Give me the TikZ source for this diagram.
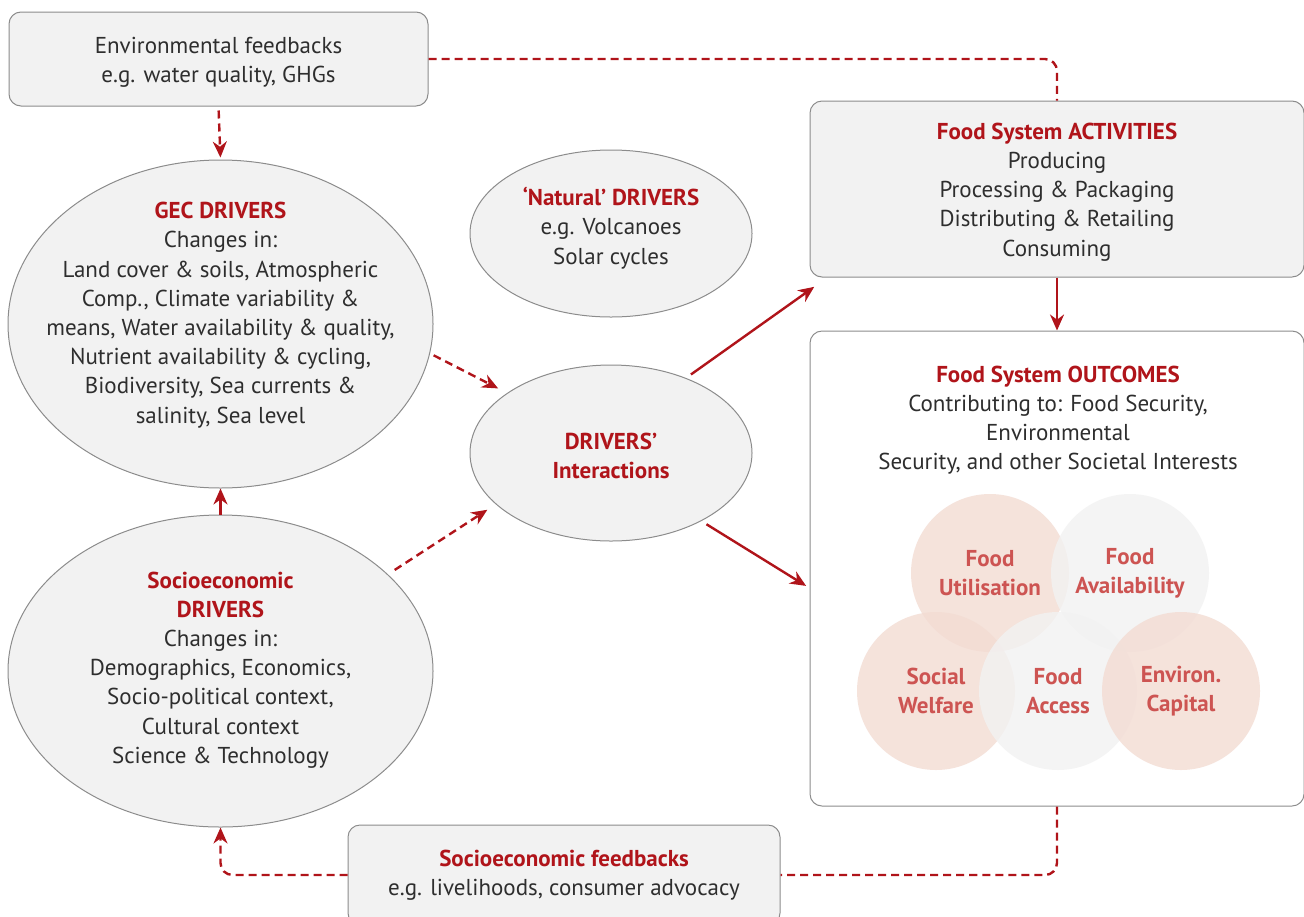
\documentclass[tikz,border=0pt]{standalone}
\usepackage{fontspec}
\setmainfont{PT Sans}
\usetikzlibrary{shapes.geometric,arrows.meta}
\definecolor{fsred}{HTML}{B0141A}
\definecolor{fsgrey}{HTML}{F2F2F2}
\definecolor{fsline}{HTML}{8C8C8C}
\definecolor{fspink}{HTML}{F3DCD3}
\definecolor{fsrose}{HTML}{CD5452}
\tikzset{
  fsbox/.style={draw=fsline, fill=fsgrey, rounded corners=6pt, line width=0.5pt},
  fsoval/.style={ellipse, draw=fsline, fill=fsgrey, line width=0.5pt, inner sep=0pt},
  fstxt/.style={align=center, font=\fontsize{11.5}{14.6}\selectfont, text=black!82},
  solidarr/.style={draw=fsred, line width=1.2pt, -{Stealth[length=8pt,width=7pt]}},
  dashline/.style={draw=fsred, line width=1.2pt, dash pattern=on 4pt off 2.5pt},
  dasharr/.style={solidarr, dash pattern=on 4pt off 2.5pt},
  fscircle/.style={circle, minimum size=79pt, inner sep=0pt, align=center, fill opacity=0.8, text opacity=1,
    text=fsrose, font=\bfseries\fontsize{11.5}{14.6}\selectfont},
}
\newcommand{\hd}[1]{\textcolor{fsred}{\bfseries #1}}

\begin{document}
\begin{tikzpicture}[x=0.5pt, y=-0.5pt]
		%%%%% FRAME %%%%%
		\clip (0,0) rectangle (1304,916);
		
		%%%%% BOXES AND OVALS %%%%%
		\node[fsbox, minimum width=209.5pt, minimum height=47pt] (envfb) at (218.5,59) {};
		\node[fstxt] (envtxt) at (218.5,62) {Environmental feedbacks\\e.g. water quality, GHGs};
		
		\node[fsoval, minimum width=212.5pt, minimum height=164pt] (gec) at (220.5,324) {};
		\node[fstxt] (gectxt) at (220.5,315) {\hd{GEC DRIVERS}\\Changes in:\\Land cover \& soils, Atmospheric\\Comp., Climate variability \&\\means, Water availability \& quality,\\Nutrient availability \& cycling,\\Biodiversity, Sea currents \&\\salinity, Sea level};
		
		\node[fsoval, minimum width=141pt, minimum height=83.5pt] (natural) at (611,233.5) {};
		\node[fstxt] (nattxt) at (611,228) {\hd{`Natural' DRIVERS}\\e.g. Volcanoes\\Solar cycles};
		
		\node[fsoval, minimum width=141pt, minimum height=88pt] (inter) at (611,453) {};
		\node[fstxt] (intertxt) at (611,456) {\hd{DRIVERS'}\\\hd{Interactions}};
		
		\node[fsoval, minimum width=212.5pt, minimum height=156pt] (socio) at (220.5,671) {};
		\node[fstxt] (sociotxt) at (220.5,670) {\hd{Socioeconomic}\\\hd{DRIVERS}\\Changes in:\\Demographics, Economics,\\Socio-political context,\\Cultural context\\Science \& Technology};
		
		\node[fsbox, minimum width=247pt, minimum height=88pt] (acts) at (1057,189) {};
		\node[fstxt] (actstxt) at (1057,192) {\hd{Food System ACTIVITIES}\\Producing\\Processing \& Packaging\\Distributing \& Retailing\\Consuming};
		
		\node[fsbox, fill=white, minimum width=247pt, minimum height=237.5pt] (outc) at (1057,568.5) {};
		\node[fstxt] (outctxt) at (1058,420) {\hd{Food System OUTCOMES}\\Contributing to: Food Security,\\Environmental\\Security, and other Societal Interests};
		
		\node[fsbox, minimum width=216pt, minimum height=50pt] (socfb) at (564,875) {};
		\node[fstxt] (socfbtxt) at (564,875) {\hd{Socioeconomic feedbacks}\\e.g. livelihoods, consumer advocacy};
		
		%%%%% OUTCOME CIRCLES %%%%%
		\node[fscircle, fill=fspink] (util) at (990,573) {Food\\Utilisation};
		\node[fscircle, fill=fsgrey] (avail) at (1130,573) {Food\\Availability};
		\node[fscircle, fill=fspink] (welf) at (936,691) {Social\\Welfare};
		\node[fscircle, fill=fsgrey] (access) at (1058,691) {Food\\Access};
		\node[fscircle, fill=fspink] (capital) at (1181,691) {Environ.\\Capital};
		
		%%%%% CONNECTORS %%%%%
		\draw[dasharr, shorten <=2pt, shorten >=1pt] (envfb.south) -- (gec.north);
		\draw[dashline, rounded corners=6pt] (envfb.east) -- (envfb.east -| acts.north) -- (acts.north);
		\draw[solidarr] (socio.north) -- (gec.south);
		\draw[dasharr, shorten <=2pt, shorten >=5pt] (gec.-8) -- (inter.150);
		\draw[dasharr, shorten <=4pt, shorten >=5pt] (socio.30) -- (inter.204);
		\draw[solidarr, shorten <=3pt, shorten >=2pt] (inter.45) -- ([shift={(8,7)}]acts.south west);
		\draw[solidarr, shorten <=3pt, shorten >=2pt] (inter.-37) -- (outc.west |- 0,588);
		\draw[solidarr] (acts.south) -- (outc.north);
		\draw[dashline, rounded corners=6pt] (outc.south) |- (socfb.east);
		\draw[dasharr, rounded corners=6pt] (socfb.west) -| (socio.south);
		
		%%%%% END %%%%%
\end{tikzpicture}
\end{document}
